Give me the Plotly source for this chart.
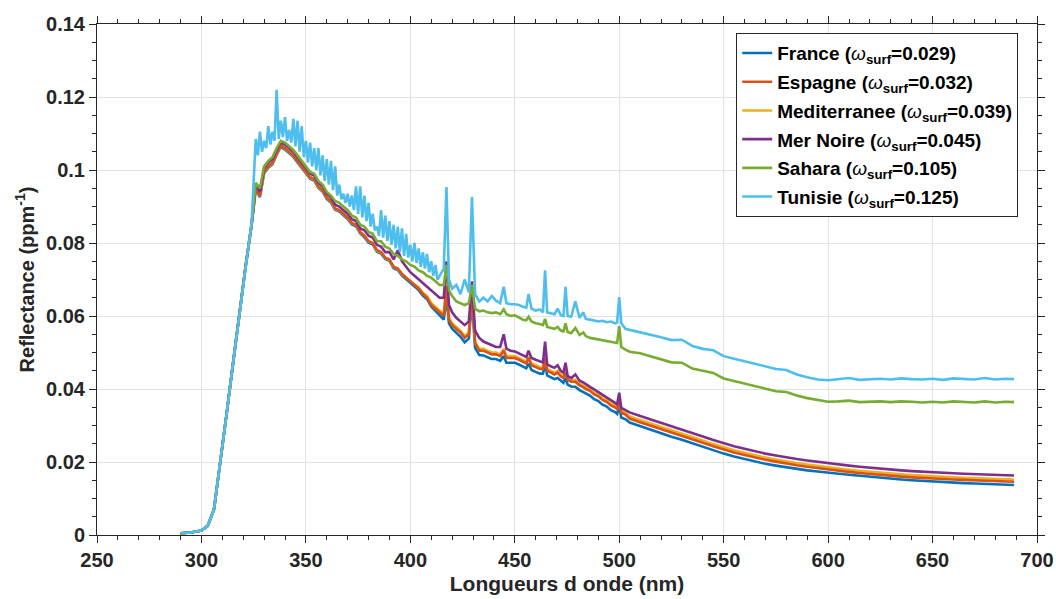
import plotly.graph_objects as go

# Common wavelength grid (nm) for the five smoother series
wavelength = [
    290, 295, 300, 303, 306, 309, 312, 315, 318, 321, 324,
    326, 328, 330, 332, 334, 336, 338, 340, 342, 344, 346, 348, 350, 352, 354,
    356, 358, 360, 362, 364, 366, 368, 370, 372, 374, 376, 378, 380, 382, 384,
    386, 388, 390, 392, 394, 396, 398, 400, 402, 404, 406, 408, 410, 412, 414,
    416, 417.3, 418.5, 420, 422, 424, 426, 428, 429.5, 431, 433, 435, 437, 439,
    441, 443, 444.7, 446, 448, 450, 452, 454, 455.5, 456.6, 458, 460, 462, 463.5,
    464.5, 465.5, 467, 469, 470.5, 472, 473.3, 474.3, 475.3, 477, 479, 481, 482.8,
    484, 486, 488, 490, 492, 494, 496, 498, 499, 500, 501, 503,
    505, 510, 515, 520, 525, 530, 535, 540, 545, 550, 555, 560, 565, 570, 575,
    580, 585, 590, 595, 600, 605, 610, 615, 620, 625, 630, 635, 640, 645, 650,
    655, 660, 665, 670, 675, 680, 685, 689,
]

# Finer grid for the noisy Tunisie spectrum
wavelength_tunisie = [
    290, 295, 300, 303, 306, 309, 312, 315, 318, 321, 324,
    326, 327, 328, 329, 330, 331, 332, 333, 334, 335, 336, 337, 338, 339, 340,
    341, 342, 343, 344, 345, 346, 347, 348, 349, 350, 351, 352, 353, 354, 355,
    356, 357, 358, 359, 360, 361, 362, 363, 364, 365, 366, 367, 368, 369, 370,
    371, 372, 373, 374, 375, 376, 377, 378, 379, 380, 381, 382, 383, 384, 385,
    386, 387, 388, 389, 390, 391, 392, 393, 394, 395, 396, 397, 398, 399, 400,
    401, 402, 403, 404, 405, 406, 407, 408, 409, 410, 411, 412, 413, 414,
    416, 417.3, 418.5, 420, 422, 424, 426, 428, 429.5, 431, 433, 435, 437, 439,
    441, 443, 444.7, 446, 448, 450, 452, 454, 455.5, 456.6, 458, 460, 462, 463.5,
    464.5, 465.5, 467, 469, 470.5, 472, 473.3, 474.3, 475.3, 477, 479, 481, 482.8,
    484, 486, 488, 490, 492, 494, 496, 498, 499, 500, 501, 503,
    505, 510, 515, 520, 525, 530, 535, 540, 545, 550, 555, 560, 565, 570, 575,
    580, 585, 590, 595, 600, 605, 610, 615, 620, 625, 630, 635, 640, 645, 650,
    655, 660, 665, 670, 675, 680, 685, 689,
]

france = [
    0.0005, 0.0007, 0.0012, 0.0025, 0.0070, 0.0195, 0.0330, 0.0465, 0.0600, 0.0730, 0.0850,
    0.0946, 0.0926, 0.0991, 0.1006, 0.1016, 0.1041, 0.1064, 0.1056, 0.1046, 0.1036, 0.1021, 0.1006, 0.0991, 0.0976, 0.0971,
    0.0951, 0.0941, 0.0921, 0.0911, 0.0891, 0.0886, 0.0876, 0.0866, 0.0851, 0.0846, 0.0826, 0.0816, 0.0801, 0.0796, 0.0776,
    0.0771, 0.0756, 0.0751, 0.0731, 0.0726, 0.0711, 0.0701, 0.0691, 0.0681, 0.0671, 0.0656, 0.0646, 0.0626, 0.0614, 0.0603,
    0.0590, 0.0650, 0.0580, 0.0565, 0.0553, 0.0543, 0.0528, 0.0538, 0.0640, 0.0513, 0.0493, 0.0492, 0.0487, 0.0482,
    0.0482, 0.0477, 0.0490, 0.0472, 0.0472, 0.0472, 0.0467, 0.0462, 0.0457, 0.0470, 0.0452, 0.0447, 0.0442, 0.0442,
    0.0470, 0.0437, 0.0432, 0.0427, 0.0430, 0.0422, 0.0417, 0.0430, 0.0412, 0.0407, 0.0406, 0.0397, 0.0392,
    0.0387, 0.0382, 0.0372, 0.0367, 0.0357, 0.0352, 0.0342, 0.0337, 0.0332, 0.0352, 0.0322, 0.0317,
    0.0308, 0.0298, 0.0289, 0.0280, 0.0269, 0.0261, 0.0251, 0.0242, 0.0232, 0.0223, 0.0215, 0.0208, 0.0201, 0.0195, 0.0190,
    0.0185, 0.0181, 0.0177, 0.0174, 0.0172, 0.0168, 0.0165, 0.0162, 0.0159, 0.0156, 0.0154, 0.0152, 0.0150, 0.0148, 0.0146,
    0.0144, 0.0143, 0.0142, 0.0141, 0.0140, 0.0139, 0.0138, 0.0137,
]

espagne = [
    0.0005, 0.0007, 0.0012, 0.0025, 0.0070, 0.0195, 0.0330, 0.0465, 0.0600, 0.0730, 0.0850,
    0.0950, 0.0930, 0.0995, 0.1010, 0.1020, 0.1045, 0.1068, 0.1060, 0.1050, 0.1040, 0.1025, 0.1010, 0.0995, 0.0980, 0.0975,
    0.0955, 0.0945, 0.0925, 0.0915, 0.0895, 0.0890, 0.0880, 0.0870, 0.0855, 0.0850, 0.0830, 0.0820, 0.0805, 0.0800, 0.0780,
    0.0775, 0.0760, 0.0755, 0.0735, 0.0730, 0.0715, 0.0705, 0.0695, 0.0685, 0.0675, 0.0660, 0.0650, 0.0630, 0.0620, 0.0610,
    0.0600, 0.0680, 0.0590, 0.0575, 0.0565, 0.0555, 0.0540, 0.0550, 0.0665, 0.0525, 0.0505, 0.0505, 0.0500, 0.0495,
    0.0495, 0.0490, 0.0505, 0.0485, 0.0485, 0.0485, 0.0480, 0.0475, 0.0470, 0.0485, 0.0465, 0.0460, 0.0455, 0.0455,
    0.0485, 0.0450, 0.0445, 0.0440, 0.0445, 0.0435, 0.0430, 0.0445, 0.0425, 0.0420, 0.0420, 0.0410, 0.0405,
    0.0400, 0.0395, 0.0385, 0.0380, 0.0370, 0.0365, 0.0355, 0.0350, 0.0345, 0.0365, 0.0335, 0.0330,
    0.0319, 0.0309, 0.0300, 0.0291, 0.0280, 0.0272, 0.0262, 0.0253, 0.0243, 0.0234, 0.0226, 0.0219, 0.0212, 0.0206, 0.0201,
    0.0195, 0.0191, 0.0187, 0.0183, 0.0180, 0.0176, 0.0173, 0.0170, 0.0167, 0.0164, 0.0162, 0.0160, 0.0158, 0.0156, 0.0155,
    0.0153, 0.0152, 0.0151, 0.0150, 0.0149, 0.0148, 0.0147, 0.0146,
]

mediterranee = [
    0.0005, 0.0007, 0.0012, 0.0025, 0.0070, 0.0195, 0.0330, 0.0465, 0.0600, 0.0730, 0.0850,
    0.0949, 0.0929, 0.0994, 0.1009, 0.1019, 0.1044, 0.1067, 0.1059, 0.1049, 0.1039, 0.1024, 0.1009, 0.0994, 0.0979, 0.0974,
    0.0954, 0.0944, 0.0924, 0.0914, 0.0894, 0.0889, 0.0879, 0.0869, 0.0854, 0.0849, 0.0829, 0.0819, 0.0804, 0.0799, 0.0779,
    0.0774, 0.0759, 0.0754, 0.0734, 0.0729, 0.0714, 0.0704, 0.0696, 0.0687, 0.0678, 0.0664, 0.0655, 0.0636, 0.0626, 0.0617,
    0.0605, 0.0685, 0.0595, 0.0580, 0.0570, 0.0560, 0.0545, 0.0555, 0.0670, 0.0530, 0.0510, 0.0510, 0.0505, 0.0500,
    0.0500, 0.0495, 0.0510, 0.0490, 0.0490, 0.0490, 0.0485, 0.0480, 0.0475, 0.0490, 0.0470, 0.0465, 0.0460, 0.0460,
    0.0490, 0.0455, 0.0450, 0.0445, 0.0450, 0.0440, 0.0435, 0.0450, 0.0430, 0.0425, 0.0425, 0.0415, 0.0410,
    0.0405, 0.0400, 0.0390, 0.0385, 0.0375, 0.0370, 0.0360, 0.0355, 0.0350, 0.0370, 0.0340, 0.0335,
    0.0325, 0.0315, 0.0306, 0.0297, 0.0286, 0.0278, 0.0268, 0.0259, 0.0249, 0.0240, 0.0232, 0.0225, 0.0218, 0.0212, 0.0207,
    0.0201, 0.0197, 0.0193, 0.0189, 0.0186, 0.0182, 0.0179, 0.0176, 0.0173, 0.0170, 0.0168, 0.0166, 0.0164, 0.0162, 0.0161,
    0.0159, 0.0158, 0.0157, 0.0156, 0.0155, 0.0154, 0.0153, 0.0152,
]

mer_noire = [
    0.0005, 0.0007, 0.0012, 0.0025, 0.0070, 0.0195, 0.0330, 0.0465, 0.0600, 0.0730, 0.0850,
    0.0960, 0.0940, 0.1005, 0.1020, 0.1030, 0.1055, 0.1075, 0.1070, 0.1060, 0.1050, 0.1035, 0.1020, 0.1005, 0.0990, 0.0985,
    0.0965, 0.0955, 0.0935, 0.0925, 0.0905, 0.0900, 0.0890, 0.0880, 0.0865, 0.0860, 0.0840, 0.0835, 0.0820, 0.0815, 0.0795,
    0.0790, 0.0775, 0.0775, 0.0755, 0.0780, 0.0750, 0.0735, 0.0720, 0.0710, 0.0700, 0.0690, 0.0680, 0.0670, 0.0660, 0.0650,
    0.0650, 0.0750, 0.0630, 0.0610, 0.0595, 0.0585, 0.0575, 0.0585, 0.0695, 0.0560, 0.0540, 0.0530, 0.0525, 0.0520,
    0.0515, 0.0515, 0.0550, 0.0510, 0.0505, 0.0503, 0.0498, 0.0493, 0.0488, 0.0505, 0.0485, 0.0480, 0.0475, 0.0473,
    0.0530, 0.0468, 0.0463, 0.0458, 0.0465, 0.0450, 0.0445, 0.0472, 0.0436, 0.0430, 0.0440, 0.0423, 0.0418,
    0.0413, 0.0406, 0.0399, 0.0392, 0.0384, 0.0377, 0.0369, 0.0362, 0.0358, 0.0390, 0.0348, 0.0342,
    0.0336, 0.0326, 0.0317, 0.0308, 0.0297, 0.0289, 0.0279, 0.0270, 0.0260, 0.0251, 0.0243, 0.0236, 0.0229, 0.0223, 0.0218,
    0.0212, 0.0208, 0.0204, 0.0200, 0.0197, 0.0193, 0.0190, 0.0187, 0.0184, 0.0181, 0.0179, 0.0177, 0.0175, 0.0173, 0.0172,
    0.0170, 0.0169, 0.0168, 0.0167, 0.0166, 0.0165, 0.0164, 0.0163,
]

sahara = [
    0.0005, 0.0007, 0.0012, 0.0025, 0.0070, 0.0195, 0.0330, 0.0465, 0.0600, 0.0730, 0.0850,
    0.0965, 0.0950, 0.1010, 0.1025, 0.1035, 0.1060, 0.1080, 0.1075, 0.1065, 0.1055, 0.1040, 0.1025, 0.1010, 0.0995, 0.0990,
    0.0970, 0.0960, 0.0940, 0.0930, 0.0915, 0.0910, 0.0900, 0.0890, 0.0875, 0.0870, 0.0850, 0.0845, 0.0830, 0.0825, 0.0805,
    0.0805, 0.0790, 0.0785, 0.0770, 0.0765, 0.0755, 0.0750, 0.0740, 0.0735, 0.0725, 0.0720, 0.0710, 0.0705, 0.0695, 0.0685,
    0.0685, 0.0740, 0.0670, 0.0655, 0.0640, 0.0635, 0.0630, 0.0635, 0.0685, 0.0620, 0.0613, 0.0615, 0.0610, 0.0608,
    0.0610, 0.0605, 0.0618, 0.0605, 0.0600, 0.0602, 0.0595, 0.0590, 0.0588, 0.0598, 0.0585, 0.0580, 0.0578, 0.0575,
    0.0592, 0.0570, 0.0568, 0.0565, 0.0570, 0.0560, 0.0558, 0.0580, 0.0556, 0.0553, 0.0567, 0.0548, 0.0555,
    0.0545, 0.0540, 0.0538, 0.0535, 0.0533, 0.0530, 0.0528, 0.0527, 0.0526, 0.0572, 0.0515, 0.0508,
    0.0502, 0.0498, 0.0490, 0.0482, 0.0473, 0.0472, 0.0456, 0.0450, 0.0444, 0.0429, 0.0422, 0.0415, 0.0408, 0.0400, 0.0394,
    0.0392, 0.0382, 0.0375, 0.0369, 0.0365, 0.0366, 0.0368, 0.0364, 0.0365, 0.0366, 0.0364, 0.0366, 0.0365, 0.0363, 0.0365,
    0.0363, 0.0366, 0.0364, 0.0363, 0.0366, 0.0363, 0.0365, 0.0364,
]

tunisie = [
    0.0005, 0.0007, 0.0012, 0.0025, 0.0070, 0.0195, 0.0330, 0.0465, 0.0600, 0.0730, 0.0855,
    0.1085, 0.1040, 0.1105, 0.1050, 0.1080, 0.1060, 0.1120, 0.1070, 0.1105, 0.1080, 0.1220, 0.1085, 0.1135, 0.1090, 0.1145,
    0.1080, 0.1110, 0.1075, 0.1140, 0.1065, 0.1135, 0.1050, 0.1120, 0.1035, 0.1080, 0.1020, 0.1075, 0.1010, 0.1060, 0.1000,
    0.1060, 0.0985, 0.1040, 0.0970, 0.1030, 0.0960, 0.1025, 0.0945, 0.1010, 0.0930, 0.0960, 0.0920, 0.0935, 0.0910, 0.0935,
    0.0900, 0.0930, 0.0890, 0.0955, 0.0880, 0.0955, 0.0870, 0.0930, 0.0860, 0.0910, 0.0845, 0.0880, 0.0835, 0.0845, 0.0820,
    0.0890, 0.0815, 0.0875, 0.0805, 0.0860, 0.0795, 0.0850, 0.0785, 0.0845, 0.0775, 0.0840, 0.0765, 0.0825, 0.0760, 0.0795,
    0.0750, 0.0800, 0.0745, 0.0785, 0.0735, 0.0775, 0.0730, 0.0770, 0.0720, 0.0750, 0.0710, 0.0740, 0.0700, 0.0710,
    0.0730, 0.0953, 0.0700, 0.0675, 0.0685, 0.0660, 0.0700, 0.0665, 0.0926, 0.0660, 0.0640, 0.0650, 0.0640, 0.0655,
    0.0642, 0.0635, 0.0680, 0.0635, 0.0632, 0.0632, 0.0630, 0.0625, 0.0623, 0.0660, 0.0620, 0.0615, 0.0618, 0.0610,
    0.0725, 0.0610, 0.0608, 0.0605, 0.0620, 0.0603, 0.0600, 0.0680, 0.0600, 0.0598, 0.0640, 0.0595, 0.0610,
    0.0592, 0.0590, 0.0588, 0.0585, 0.0587, 0.0583, 0.0585, 0.0580, 0.0582, 0.0652, 0.0580, 0.0565,
    0.0562, 0.0556, 0.0548, 0.0542, 0.0534, 0.0535, 0.0518, 0.0510, 0.0506, 0.0490, 0.0483, 0.0476, 0.0468, 0.0460, 0.0455,
    0.0452, 0.0440, 0.0432, 0.0426, 0.0424, 0.0426, 0.0430, 0.0425, 0.0427, 0.0428, 0.0426, 0.0429, 0.0427, 0.0426, 0.0428,
    0.0425, 0.0429, 0.0427, 0.0426, 0.0430, 0.0426, 0.0428, 0.0427,
]

names = ["France", "Espagne", "Mediterranee", "Mer Noire", "Sahara", "Tunisie"]
omega_surf = ["0.029", "0.032", "0.039", "0.045", "0.105", "0.125"]
colors = ["#0072BD", "#D95319", "#EDB120", "#7E2F8E", "#77AC30", "#4DBEEE"]
values = [france, espagne, mediterranee, mer_noire, sahara, tunisie]
grids = [wavelength, wavelength, wavelength, wavelength, wavelength, wavelength_tunisie]

x_ticks = [250, 300, 350, 400, 450, 500, 550, 600, 650, 700]
y_ticks = [0, 0.02, 0.04, 0.06, 0.08, 0.1, 0.12, 0.14]
y_ticktext = ["0", "0.02", "0.04", "0.06", "0.08", "0.1", "0.12", "0.14"]

FONT = "Liberation Sans, Arial, Helvetica, sans-serif"
AX = "#262626"
GRID = "#e1e1e1"

fig = go.Figure()
draw_order = [0, 2, 1, 3, 4, 5]
for i in draw_order:
    label = ("<b>%s (</b><i>ω</i><sub><b>surf</b></sub><b>=%s)</b>"
             % (names[i], omega_surf[i]))
    fig.add_trace(go.Scatter(
        x=grids[i], y=values[i], mode="lines", name=label,
        legendgroup=names[i],
        line=dict(color=colors[i], width=2.6), legendrank=i + 1,
    ))

axis_common = dict(
    showline=True, linecolor=AX, linewidth=1, mirror="allticks",
    ticks="outside", ticklen=7, tickwidth=1, tickcolor=AX,
    showgrid=True, gridcolor=GRID, gridwidth=1, zeroline=False,
    automargin=False,
    tickfont=dict(family=FONT, size=20, color="#262626", weight="bold"),
)

fig.update_xaxes(
    range=[250, 700], tickvals=x_ticks,
    minor=dict(dtick=10, tick0=250, ticks="outside", ticklen=4, tickcolor=AX, showgrid=False),
    title=dict(text="Longueurs d onde (nm)", standoff=6,
               font=dict(family=FONT, size=21, color="#262626", weight="bold")),
    **axis_common,
)
fig.update_yaxes(
    range=[0, 0.14], tickvals=y_ticks, ticktext=y_ticktext,
    minor=dict(dtick=0.005, tick0=0, ticks="outside", ticklen=4, tickcolor=AX, showgrid=False),
    title=dict(text="Reflectance (ppm<sup>-1</sup>)", standoff=6,
               font=dict(family=FONT, size=20, color="#262626", weight="bold")),
    **axis_common,
)

fig.update_layout(
    width=1056, height=599, autosize=False,
    margin=dict(l=97, r=19, t=24, b=64),
    plot_bgcolor="white", paper_bgcolor="white",
    legend=dict(
        x=0.68, y=0.982, xanchor="left", yanchor="top",
        bgcolor="white", bordercolor=AX, borderwidth=1,
        font=dict(family=FONT, size=19, color="#000000"),
        tracegroupgap=1, itemwidth=30,
    ),
    showlegend=True,
)

fig.write_html("out.html", config={"displayModeBar": False},
               post_script="document.body.style.margin='0px';")
